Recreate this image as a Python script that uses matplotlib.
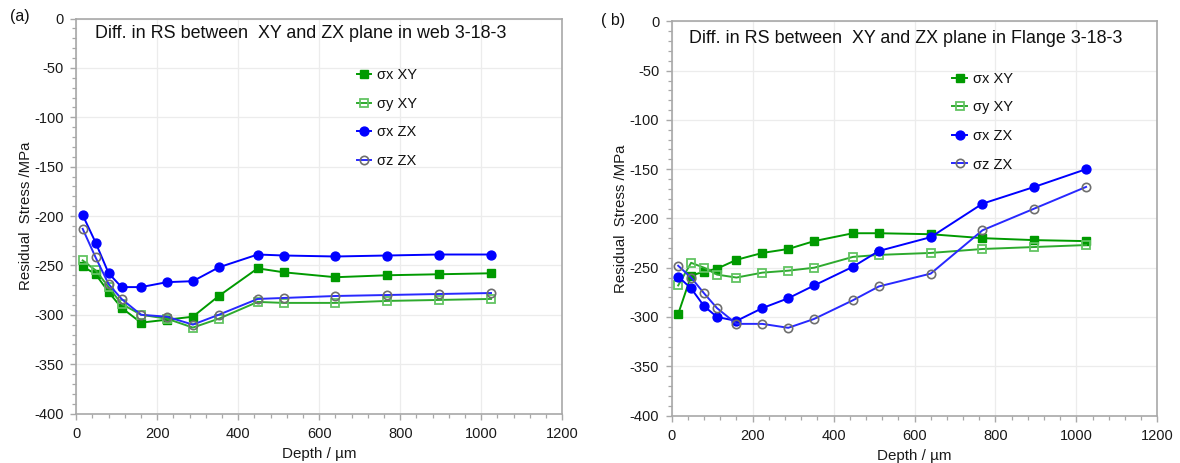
import matplotlib
matplotlib.use("Agg")
import matplotlib.pyplot as plt
from matplotlib.ticker import MultipleLocator

plt.rcParams['font.family'] = ['Liberation Sans', 'DejaVu Sans']
plt.rcParams['axes.unicode_minus'] = False

# Measurement depths (µm)
depth = [16, 48, 80, 112, 160, 224, 288, 352, 448, 512, 640, 768, 896, 1024]

# Web 3-18-3 residual stresses (MPa)
web_sx_xy = [-251, -259, -277, -293, -308, -305, -302, -281, -253, -257, -262, -260, -259, -258]
web_sy_xy = [-245, -255, -272, -289, -300, -304, -313, -304, -287, -288, -288, -286, -285, -284]
web_sx_zx = [-199, -227, -258, -272, -272, -267, -266, -252, -239, -240, -241, -240, -239, -239]
web_sz_zx = [-213, -242, -269, -284, -300, -302, -310, -300, -284, -283, -281, -280, -279, -278]

# Flange 3-18-3 residual stresses (MPa)
fl_sx_xy = [-297, -258, -254, -251, -242, -235, -231, -223, -215, -215, -216, -220, -222, -223]
fl_sy_xy = [-268, -245, -250, -257, -260, -255, -253, -250, -239, -237, -235, -231, -229, -227]
fl_sx_zx = [-259, -271, -289, -300, -304, -291, -281, -268, -249, -233, -219, -185, -168, -150]
fl_sz_zx = [-248, -260, -276, -291, -307, -307, -311, -302, -283, -269, -256, -212, -190, -168]

series_labels = ['σx XY', 'σy XY', 'σx ZX', 'σz ZX']
titles = ['Diff. in RS between  XY and ZX plane in web 3-18-3',
          'Diff. in RS between  XY and ZX plane in Flange 3-18-3']
panel_tags = ['(a)', '( b)']

W, H = 1180, 463
fig = plt.figure(figsize=(W / 100, H / 100), dpi=100)

def px_axes(x0, x1, ytop, ybot):
    return fig.add_axes([x0 / W, (H - ybot) / H, (x1 - x0) / W, (ybot - ytop) / H])

ax_a = px_axes(76.2, 562.3, 18.5, 413.5)
ax_b = px_axes(671.7, 1157.3, 21.4, 415.5)

GREEN = '#009a00'
GREEN_LT = '#2eaa2e'
GREEN_EDGE = '#62c462'
BLUE = '#0000ff'
BLUE_LT = '#2828ff'
GREY = '#6e6e6e'
SPINE = '#a8a8a8'

def draw(ax, sx_xy, sy_xy, sx_zx, sz_zx, title, tag, tag_xy, title_xy, leg_xy):
    lw = 1.4
    ax.plot(depth, sx_xy, '-s', color=GREEN, mfc=GREEN, mec=GREEN, ms=5.6, lw=lw,
            label=series_labels[0], zorder=3)
    ax.plot(depth, sy_xy, '-s', color=GREEN_LT, mfc='none', mec=GREEN_EDGE, mew=1.3,
            ms=5.6, lw=lw, label=series_labels[1], zorder=3)
    ax.plot(depth, sx_zx, '-o', color=BLUE, mfc=BLUE, mec=BLUE, ms=6.4, lw=lw,
            label=series_labels[2], zorder=4)
    ax.plot(depth, sz_zx, '-o', color=BLUE_LT, mfc='none', mec=GREY, mew=1.2,
            ms=6.0, lw=lw, label=series_labels[3], zorder=4)

    ax.set_xlim(0, 1200)
    ax.set_ylim(-400, 0)
    ax.xaxis.set_major_locator(MultipleLocator(200))
    ax.xaxis.set_minor_locator(MultipleLocator(40))
    ax.yaxis.set_major_locator(MultipleLocator(50))
    ax.yaxis.set_minor_locator(MultipleLocator(10))
    ax.grid(True, which='major', color='#ececec', lw=0.9, zorder=0)
    ax.set_axisbelow(True)
    for s in ax.spines.values():
        s.set_color(SPINE)
        s.set_linewidth(1.2)
    ax.tick_params(which='major', direction='out', length=4, width=1.0, color=SPINE,
                   labelsize=10.5, labelcolor='#1a1a1a', pad=4)
    ax.tick_params(axis='y', which='major', pad=5)
    ax.tick_params(which='minor', direction='out', length=3, width=0.9, color=SPINE)
    ax.tick_params(axis='x', which='major', pad=6)

    ax.set_xlabel('Depth / µm', fontsize=10.9, color='#1a1a1a', labelpad=4)
    ax.set_ylabel('Residual  Stress /MPa', fontsize=10.8, color='#1a1a1a', labelpad=1)

    ax.text(title_xy[0], title_xy[1], title, transform=ax.transAxes, fontsize=12.9,
            color='#111111', ha='left', va='center')
    fig.text(tag_xy[0] / W, 1 - tag_xy[1] / H, tag, fontsize=11.5, color='#111111',
             ha='left', va='center')

    leg = ax.legend(loc='upper left', bbox_to_anchor=leg_xy, frameon=False,
                    fontsize=10.5, handlelength=1.0, handletextpad=0.4,
                    labelspacing=1.0, borderaxespad=0, borderpad=0)
    for t in leg.get_texts():
        t.set_color('#111111')

draw(ax_a, web_sx_xy, web_sy_xy, web_sx_zx, web_sz_zx, titles[0], panel_tags[0],
     (10, 16), (0.039, 0.963), (0.577, 0.874))
draw(ax_b, fl_sx_xy, fl_sy_xy, fl_sx_zx, fl_sz_zx, titles[1], panel_tags[1],
     (601, 21), (0.036, 0.957), (0.578, 0.872))

fig.savefig('out.png', dpi=100, facecolor='white')
